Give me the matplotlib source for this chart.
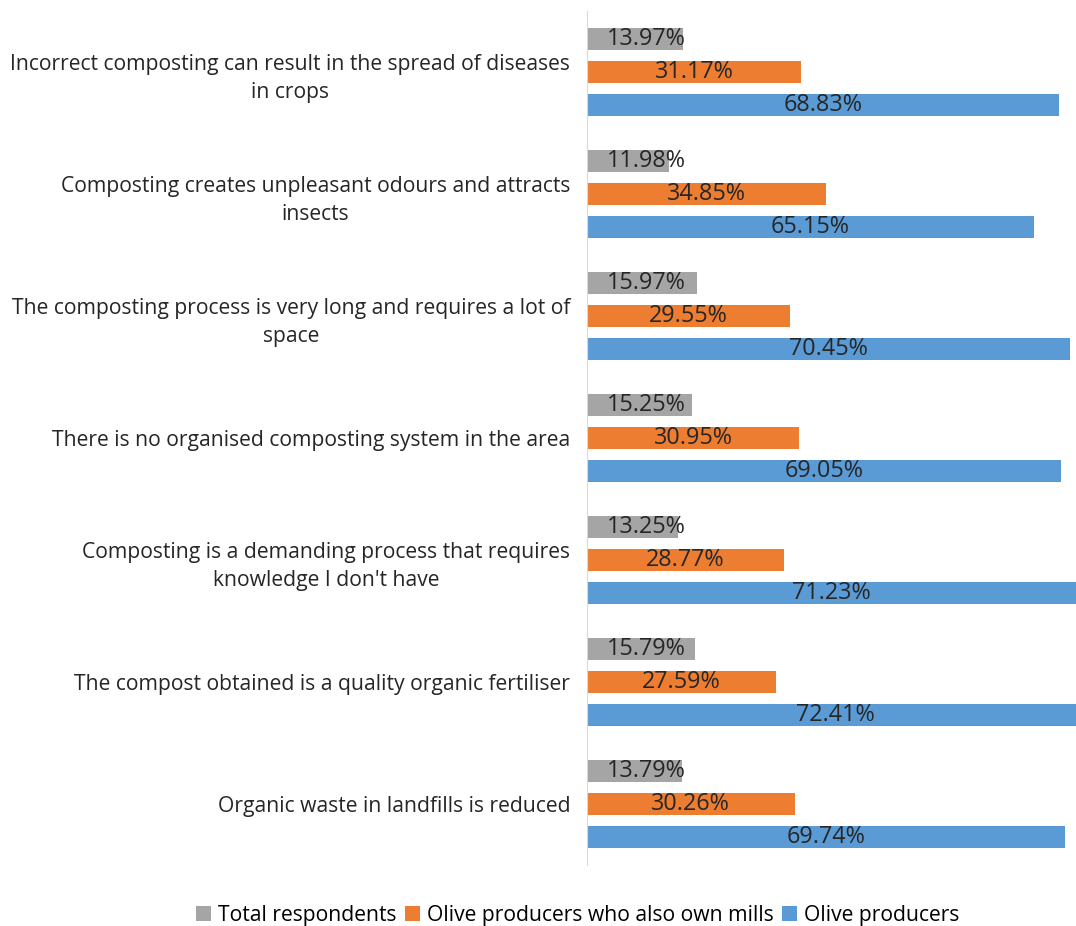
import matplotlib.pyplot as plt
import numpy as np

plt.rcParams['font.family'] = ['Open Sans', 'DejaVu Sans']

# Survey statements, top to bottom
statements = [
    "Incorrect composting can result in the spread of diseases\nin crops",
    "Composting creates unpleasant odours and attracts\ninsects",
    "The composting process is very long and requires a lot of\nspace",
    "There is no organised composting system in the area",
    "Composting is a demanding process that requires\nknowledge I don't have",
    "The compost obtained is a quality organic fertiliser",
    "Organic waste in landfills is reduced",
]

total = [13.97, 11.98, 15.97, 15.25, 13.25, 15.79, 13.79]
mill_owners = [31.17, 34.85, 29.55, 30.95, 28.77, 27.59, 30.26]
producers = [68.83, 65.15, 70.45, 69.05, 71.23, 72.41, 69.74]

series = [
    ("Total respondents", total, "#A5A5A5"),
    ("Olive producers who also own mills", mill_owners, "#ED7D31"),
    ("Olive producers", producers, "#5B9BD5"),
]

fig = plt.figure(figsize=(10.76, 9.26), dpi=100)
ax = fig.add_axes([587 / 1076, 61 / 926, 1 - 587 / 1076, 854 / 926])

y = np.arange(len(statements))
step = 0.27
height = 0.185

for i, (name, vals, color) in enumerate(series):
    pos = y + (i - 1) * step
    ax.barh(pos, vals, height=height, color=color, label=name)
    for p, v in zip(pos, vals):
        # small bars: keep the label clear of the axis
        ax.text(max(v / 2, 8.6), p, f"{v:.2f}%", ha="center", va="center",
                fontsize=16.8, color="#262626")

ax.set_xlim(0, 71.3)
ax.set_ylim(len(statements) - 0.5, -0.5)
ax.set_yticks(y)
ax.set_yticklabels(statements, fontsize=15.2, color="#262626",
                   multialignment="center", linespacing=1.45)
ax.tick_params(axis="y", length=0, pad=12)
ax.set_xticks([])
for side in ["top", "right", "bottom"]:
    ax.spines[side].set_visible(False)
ax.spines["left"].set_color("#D9D9D9")

fig.legend(loc="lower center", bbox_to_anchor=(0.537, -0.02), ncol=3,
           frameon=False, fontsize=15.2, handlelength=0.7, handleheight=0.7,
           handletextpad=0.35, columnspacing=0.4)

fig.savefig("out.png", dpi=100)
